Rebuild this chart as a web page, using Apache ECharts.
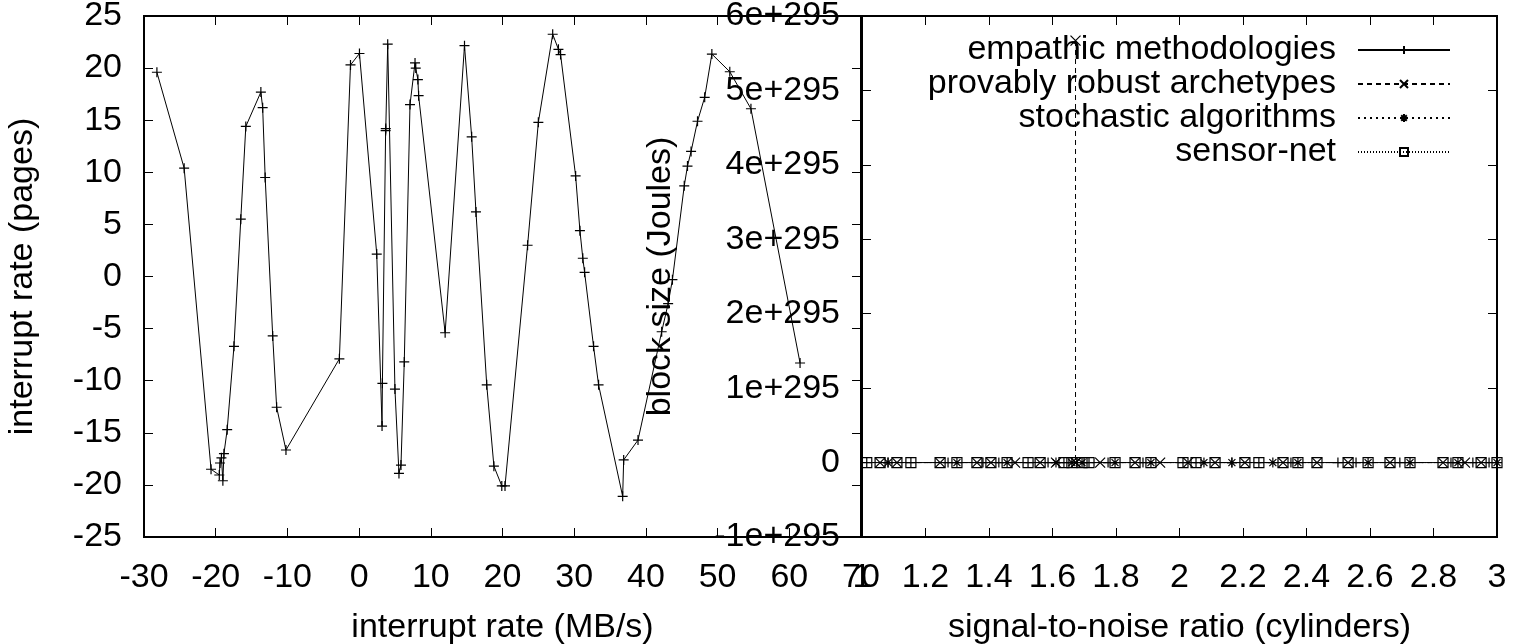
<!DOCTYPE html>
<html>
<head>
<meta charset="utf-8">
<script src="https://cdn.jsdelivr.net/npm/echarts@6/dist/echarts.min.js"></script>
<style>
    html, body { margin: 0; padding: 0; background: #fff; }
    #chart { width: 1514px; height: 644px; }
</style>
</head>
<body>
<div id="chart"></div>
<script>
// left panel: interrupt rate (MB/s) vs interrupt rate (pages)
var leftXTicks = [-30, -20, -10, 0, 10, 20, 30, 40, 50, 60, 70];
var leftYTicks = [-25, -20, -15, -10, -5, 0, 5, 10, 15, 20, 25];
var interruptRate = [
    [-28.2, 19.6], [-24.4, 10.4], [-20.65, -18.5], [-19.5, -19.05], [-19.4, -17.9],
    [-19.2, -17.4], [-19.0, -19.6], [-18.85, -17.0], [-18.4, -14.7], [-17.45, -6.7],
    [-16.5, 5.5], [-15.8, 14.4], [-13.7, 17.7], [-13.45, 16.2], [-13.1, 9.5],
    [-12.05, -5.7], [-11.5, -12.55], [-10.2, -16.65], [-2.75, -7.9], [-1.2, 20.3],
    [0.05, 21.4], [2.46, 2.15], [3.2, -14.35], [3.25, -10.25], [3.7, 14.0],
    [3.72, 14.2], [3.99, 22.3], [5.0, -10.8], [5.56, -18.9], [5.84, -18.1],
    [6.3, -8.2], [7.1, 16.5], [7.8, 20.5], [7.9, 20.0], [8.2, 18.9],
    [8.3, 17.35], [12.0, -5.4], [14.7, 22.15], [15.7, 13.4], [16.3, 6.2],
    [17.8, -10.4], [18.8, -18.2], [19.9, -20.1], [20.35, -20.1], [23.5, 3.0],
    [25.0, 14.8], [27.0, 23.25], [27.8, 21.8], [28.1, 21.3], [30.2, 9.65],
    [30.8, 4.4], [31.2, 1.75], [31.45, 0.4], [32.7, -6.7], [33.4, -10.4],
    [36.76, -21.1], [36.9, -17.6], [38.9, -15.7], [42.2, -5.3], [43.1, -2.6],
    [43.7, -0.3], [45.35, 8.7], [45.8, 10.6], [46.3, 12.0], [47.2, 14.9],
    [48.2, 17.2], [49.2, 21.35], [51.7, 19.65], [54.65, 16.1], [61.5, -8.3]
];

// right panel: signal-to-noise ratio (cylinders) vs block size (Joules)
var rightXTicks = [1, 1.2, 1.4, 1.6, 1.8, 2, 2.2, 2.4, 2.6, 2.8, 3];
var rightXTickLabels = ['1', '1.2', '1.4', '1.6', '1.8', '2', '2.2', '2.4', '2.6', '2.8', '3'];
var rightYTicks = [-1e295, 0, 1e295, 2e295, 3e295, 4e295, 5e295, 6e295];
var rightYTickLabels = ['-1e+295', '0', '1e+295', '2e+295', '3e+295', '4e+295', '5e+295', '6e+295'];
var legendNames = ['empathic methodologies', 'provably robust archetypes', 'stochastic algorithms', 'sensor-net'];

var empathic = [
    [1.015, 0], [1.082, 0], [1.154, 0], [1.271, 0], [1.381, 0], [1.431, 0], [1.523, 0],
    [1.586, 0], [1.636, 0], [1.715, 0], [1.775, 0], [1.885, 0], [2.011, 0], [2.052, 0],
    [2.165, 0], [2.25, 0], [2.351, 0], [2.499, 0], [2.556, 0], [2.694, 0], [2.855, 0],
    [2.924, 0], [2.975, 0]
];
var provably = [
    [1.057, 0], [1.11, 0], [1.246, 0], [1.362, 0], [1.406, 0], [1.482, 0], [1.561, 0],
    [1.611, 0], [1.6725, 0], [1.6725, 5.67e295], [1.674, 0], [1.75, 0], [1.86, 0], [1.939, 0],
    [2.027, 0], [2.112, 0], [2.206, 0], [2.326, 0], [2.433, 0], [2.531, 0], [2.663, 0],
    [2.83, 0], [2.899, 0], [2.95, 0]
];
var stochastic = [
    [1.082, 0], [1.299, 0], [1.457, 0], [1.611, 0], [1.661, 0], [1.693, 0], [1.797, 0],
    [1.91, 0], [2.077, 0], [2.165, 0], [2.294, 0], [2.373, 0], [2.594, 0], [2.726, 0],
    [2.877, 0], [3.0, 0]
];
var sensorNet = [
    [1.015, 0], [1.057, 0], [1.11, 0], [1.154, 0], [1.246, 0], [1.299, 0], [1.362, 0],
    [1.406, 0], [1.457, 0], [1.523, 0], [1.561, 0], [1.636, 0], [1.661, 0], [1.693, 0],
    [1.715, 0], [1.797, 0], [1.86, 0], [1.91, 0], [2.011, 0], [2.052, 0], [2.112, 0],
    [2.206, 0], [2.25, 0], [2.326, 0], [2.373, 0], [2.433, 0], [2.531, 0], [2.594, 0],
    [2.663, 0], [2.726, 0], [2.83, 0], [2.877, 0], [2.95, 0], [3.0, 0]
];

var FONT = 'Liberation Sans';
var FONT_SIZE = 34;
var PLUS = 'path://M0,5L10,5M5,0L5,10';
var CROSS = 'path://M0,0L10,10M10,0L0,10';
var STAR = 'path://M0,5L10,5M5,0L5,10M1.5,1.5L8.5,8.5M8.5,1.5L1.5,8.5';
var SQUARE = 'path://M0,0L10,0L10,10L0,10Z';

function ticksOf(list) {
    return { min: list[0], max: list[list.length - 1], interval: list[1] - list[0] };
}

function tickFormatter(ticks, labels) {
    return function (val) {
        var idx = Math.round((val - ticks[0]) / (ticks[1] - ticks[0]));
        return labels ? labels[idx] : String(ticks[idx]);
    };
}

function valueAxis(grid, ticks, pos, opts) {
    var t = ticksOf(ticks);
    var axis = {
        type: 'value',
        gridIndex: grid,
        position: pos,
        min: t.min,
        max: t.max,
        interval: t.interval,
        axisLine: { show: false, onZero: false },
        splitLine: { show: false },
        axisTick: { show: true, inside: true, length: 9, lineStyle: { color: '#000', width: 1 } },
        axisLabel: { show: false }
    };
    return Object.assign(axis, opts || {});
}

function labelStyle(margin, formatter) {
    return { show: true, color: '#000', fontFamily: FONT, fontSize: FONT_SIZE, margin: margin, formatter: formatter };
}

function nameStyle() {
    return { color: '#000', fontFamily: FONT, fontSize: FONT_SIZE };
}

function lineSeries(name, data, symbol, dash, xi, yi, size) {
    return {
        type: 'line',
        name: name,
        data: data,
        xAxisIndex: xi,
        yAxisIndex: yi,
        symbol: symbol,
        symbolSize: size || 10,
        showAllSymbol: true,
        lineStyle: { color: '#000', width: 1, type: dash },
        itemStyle: { color: 'transparent', borderColor: '#000', borderWidth: 1.2 },
        emphasis: { disabled: true },
        animation: false
    };
}

// split the dashed series right after its spike so the drop back is not drawn twice
var peakIdx = 9;

var options = {
    animation: false,
    backgroundColor: '#fff',
    grid: [
        { left: 144, top: 16, width: 717, height: 521, outerBoundsMode: 'none', containLabel: false,
          show: true, borderColor: '#000', borderWidth: 2 },
        { left: 862, top: 16, width: 635, height: 521, outerBoundsMode: 'none', containLabel: false,
          show: true, borderColor: '#000', borderWidth: 2 }
    ],
    legend: {
        data: legendNames,
        orient: 'vertical',
        align: 'right',
        right: 58,
        top: 28,
        itemWidth: 92,
        itemHeight: 10,
        itemGap: 0,
        textStyle: { color: '#000', fontFamily: FONT, fontSize: FONT_SIZE, padding: [0, 17, 0, 0] },
        selectedMode: false
    },
    xAxis: [
        valueAxis(0, leftXTicks, 'bottom', {
            axisLabel: labelStyle(24, tickFormatter(leftXTicks)),
            name: 'interrupt rate (MB/s)',
            nameLocation: 'middle',
            nameGap: 74,
            nameTextStyle: nameStyle()
        }),
        valueAxis(0, leftXTicks, 'top'),
        valueAxis(1, rightXTicks, 'bottom', {
            axisLabel: labelStyle(24, tickFormatter(rightXTicks, rightXTickLabels)),
            name: 'signal-to-noise ratio (cylinders)',
            nameLocation: 'middle',
            nameGap: 74,
            nameTextStyle: nameStyle()
        }),
        valueAxis(1, rightXTicks, 'top')
    ],
    yAxis: [
        valueAxis(0, leftYTicks, 'left', {
            axisLabel: labelStyle(22, tickFormatter(leftYTicks)),
            name: 'interrupt rate (pages)',
            nameLocation: 'middle',
            nameGap: 104,
            nameTextStyle: nameStyle()
        }),
        valueAxis(0, leftYTicks, 'right'),
        valueAxis(1, rightYTicks, 'left', {
            axisLabel: labelStyle(22, tickFormatter(rightYTicks, rightYTickLabels)),
            name: 'block size (Joules)',
            nameLocation: 'middle',
            nameGap: 184,
            nameTextStyle: nameStyle()
        }),
        valueAxis(1, rightYTicks, 'right')
    ],
    series: [
        lineSeries('interrupt', interruptRate, PLUS, 'solid', 0, 0, 10),
        lineSeries(legendNames[0], empathic, PLUS, 'solid', 2, 2),
        lineSeries(legendNames[1], provably.slice(0, peakIdx + 1), CROSS, [5, 4], 2, 2),
        lineSeries(legendNames[1], provably.slice(peakIdx + 1), CROSS, [5, 4], 2, 2),
        lineSeries(legendNames[2], stochastic, STAR, [2, 4], 2, 2),
        lineSeries(legendNames[3], sensorNet, SQUARE, [1, 2], 2, 2)
    ]
};

var chartObj = echarts.init(document.getElementById('chart'));
chartObj.setOption(options);
</script>
</body>
</html>
